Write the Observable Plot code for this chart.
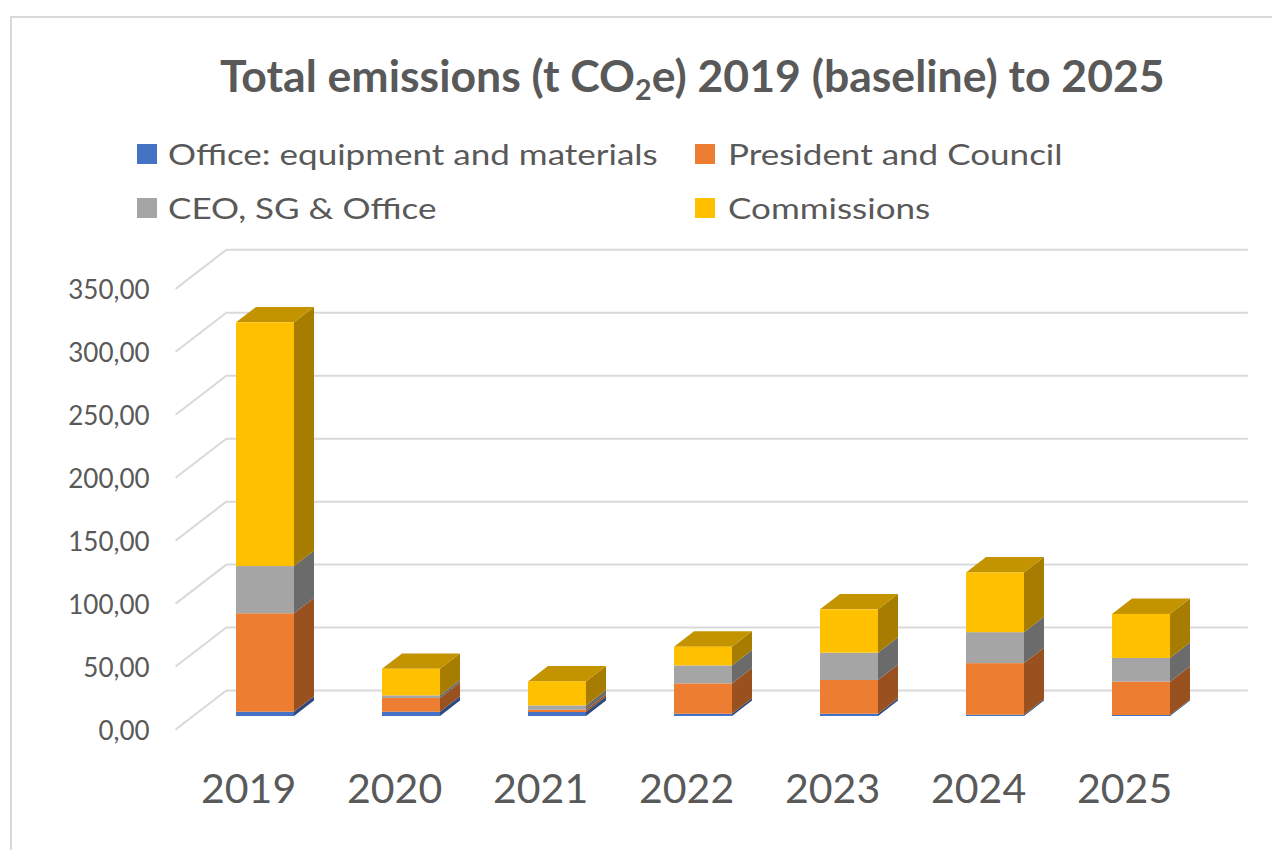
<!DOCTYPE html>
<html><head><meta charset="utf-8">
<script src="https://cdn.jsdelivr.net/npm/d3@7"></script>
<script src="https://cdn.jsdelivr.net/npm/@observablehq/plot@0.6"></script>
<style>
html,body{margin:0;padding:0;background:#fff;width:1272px;height:850px;overflow:hidden;font-family:Lato,"Open Sans",sans-serif;color:#595959;}
#frame{position:absolute;left:10px;top:16px;width:1300px;height:900px;border:2px solid #d9d9d9;box-sizing:border-box;}
.t{position:absolute;white-space:nowrap;line-height:1;transform-origin:0 0.887em;color:#595959;}
#title{font-weight:700;}
#title sub{font-size:0.64em;vertical-align:-0.3em;line-height:0;}
.sw{position:absolute;width:20px;height:20px;}
#chart{position:absolute;left:0;top:230px;}
</style></head><body>
<div id="frame"></div>
<div id="title" class="t">Total emissions (t CO<sub>2</sub>e) 2019 (baseline) to 2025</div>
<div id="legend"></div>
<div id="chart"></div>
<script>
// ---- data ----
const years = [2019, 2020, 2021, 2022, 2023, 2024, 2025];
const seriesNames = ["Office: equipment and materials", "President and Council", "CEO, SG & Office", "Commissions"];
const office      = [3.4, 3.4, 3.2, 1.8, 1.8, 1.0, 0.8];
const president   = [78.2, 10.9, 1.8, 24.1, 26.8, 41.0, 26.5];
const ceo         = [37.5, 2.1, 3.4, 14.3, 21.7, 24.6, 18.8];
const commissions = [193.6, 21.1, 19.1, 14.8, 34.4, 47.4, 35.0];
const yTicks = [0, 50, 100, 150, 200, 250, 300, 350];
const frontColors = ["#4472C4", "#ED7D31", "#A5A5A5", "#FFC000"];
const sideColors  = ["#2C4A80", "#9A5120", "#6B6B6B", "#A67D00"];
const topColors   = ["#345895", "#B66026", "#7F7F7F", "#C49400"];
const values = [office, president, ceo, commissions];

// ---- title & legend (HTML) ----
function sizeFor(el, targetW) {
  el.style.fontSize = "100px";
  const w = el.getBoundingClientRect().width;
  return 100 * targetW / w;
}
function place(el, left, baseline, fs, cap) {
  el.style.fontSize = fs + "px";
  el.style.left = left + "px";
  el.style.top = (baseline - 0.887 * fs) + "px";
  if (cap) el.style.transform = `scaleY(${cap / (0.7165 * fs)})`;
}
const title = document.getElementById("title");
place(title, 220, 93, sizeFor(title, 945), 31);

const legend = document.getElementById("legend");
const legPos = [[137, 168, 165], [695, 728, 165], [137, 168, 219], [695, 728, 219]];
const legEls = seriesNames.map((name, k) => {
  const sw = document.createElement("div");
  sw.className = "sw";
  sw.style.background = frontColors[k];
  sw.style.left = legPos[k][0] + "px";
  sw.style.top = (legPos[k][2] - 21) + "px";
  legend.appendChild(sw);
  const t = document.createElement("div");
  t.className = "t";
  t.textContent = name;
  legend.appendChild(t);
  return t;
});
const legFs = sizeFor(legEls[0], 490);
legEls.forEach((t, k) => place(t, legPos[k][1], legPos[k][2], legFs, 21));

// ---- 3D geometry (oblique projection) ----
const xDomain = [2018.5, 2025.5], xRange = [192, 1214];
const yDomain = [0, 350], yRange = [486, 45.35];
const pxPerYear = (xRange[1] - xRange[0]) / (xDomain[1] - xDomain[0]);
const pxPerUnit = (yRange[0] - yRange[1]) / (yDomain[1] - yDomain[0]);
const depthPx = [50.7, 39];             // full floor depth, in pixels (right, up)
const DX = depthPx[0] / pxPerYear, DY = depthPx[1] / pxPerUnit;
const dF = 1 / 3, dB = dF + 20 / depthPx[0]; // bar front / back depth
const hw = 29 / pxPerYear;               // half bar width
const bdx = (dB - dF) * DX, bdy = (dB - dF) * DY;

const segs = [];
years.forEach((yr, i) => {
  let acc = 0;
  values.forEach((vals, k) => {
    segs.push({year: yr, k, y0: acc, y1: acc + vals[i], id: yr + "-" + k, top: k === values.length - 1});
    acc += vals[i];
  });
});
const sidePts = segs.flatMap(s => [
  {id: s.id, k: s.k, x: s.year + hw, lo: s.y0, hi: s.y1},
  {id: s.id, k: s.k, x: s.year + hw + bdx, lo: s.y0 + bdy, hi: s.y1 + bdy}
]);
const topPts = segs.filter(s => s.top).flatMap(s => [
  {id: s.id, k: s.k, y: s.y1, a: s.year - hw, b: s.year + hw},
  {id: s.id, k: s.k, y: s.y1 + bdy, a: s.year - hw + bdx, b: s.year + hw + bdx}
]);

const fmt = v => v.toFixed(2).replace(".", ",");
const grid = "#d9d9d9";

const marks = [
  Plot.ruleY(yTicks, {y: v => v + (1 - dF) * DY, x1: () => xDomain[0] + (1 - dF) * DX, x2: () => xDomain[1] + (1 - dF) * DX, stroke: grid, strokeWidth: 2}),
  Plot.link(yTicks, {x1: () => xDomain[0] - dF * DX, y1: v => v - dF * DY, x2: () => xDomain[0] + (1 - dF) * DX, y2: v => v + (1 - dF) * DY, stroke: grid, strokeWidth: 2})
];
values.forEach((_, k) => {
  marks.push(Plot.areaY(sidePts.filter(p => p.k === k), {x: "x", y1: "lo", y2: "hi", z: "id", fill: sideColors[k]}));
  marks.push(Plot.areaX(topPts.filter(p => p.k === k), {y: "y", x1: "a", x2: "b", z: "id", fill: topColors[k]}));
  marks.push(Plot.rect(segs.filter(s => s.k === k), {x1: s => s.year - hw, x2: s => s.year + hw, y1: "y0", y2: "y1", fill: frontColors[k]}));
});
marks.push(
  Plot.text(yTicks, {x: () => xDomain[0] - dF * DX, y: v => v - dF * DY, text: fmt, textAnchor: "end", dx: -26, dy: 2, fontSize: 26, fill: "#595959"}),
  Plot.text(years, {x: yr => yr - dF * DX, y: () => -dF * DY, text: String, dy: 60, fontSize: 41, fill: "#595959", ariaLabel: "year-labels"})
);

const chart = Plot.plot({
  width: 1272,
  height: 620,
  x: {domain: xDomain, range: xRange, axis: null},
  y: {domain: yDomain, range: yRange, axis: null},
  style: {fontFamily: "Lato, 'Open Sans', sans-serif", background: "transparent", overflow: "visible"},
  marks
});
document.getElementById("chart").appendChild(chart);
d3.select(chart).selectAll('g[aria-label="year-labels"] text')
  .style("transform-box", "fill-box").style("transform-origin", "center").style("transform", "scaleY(1.1)");
</script>
</body></html>
